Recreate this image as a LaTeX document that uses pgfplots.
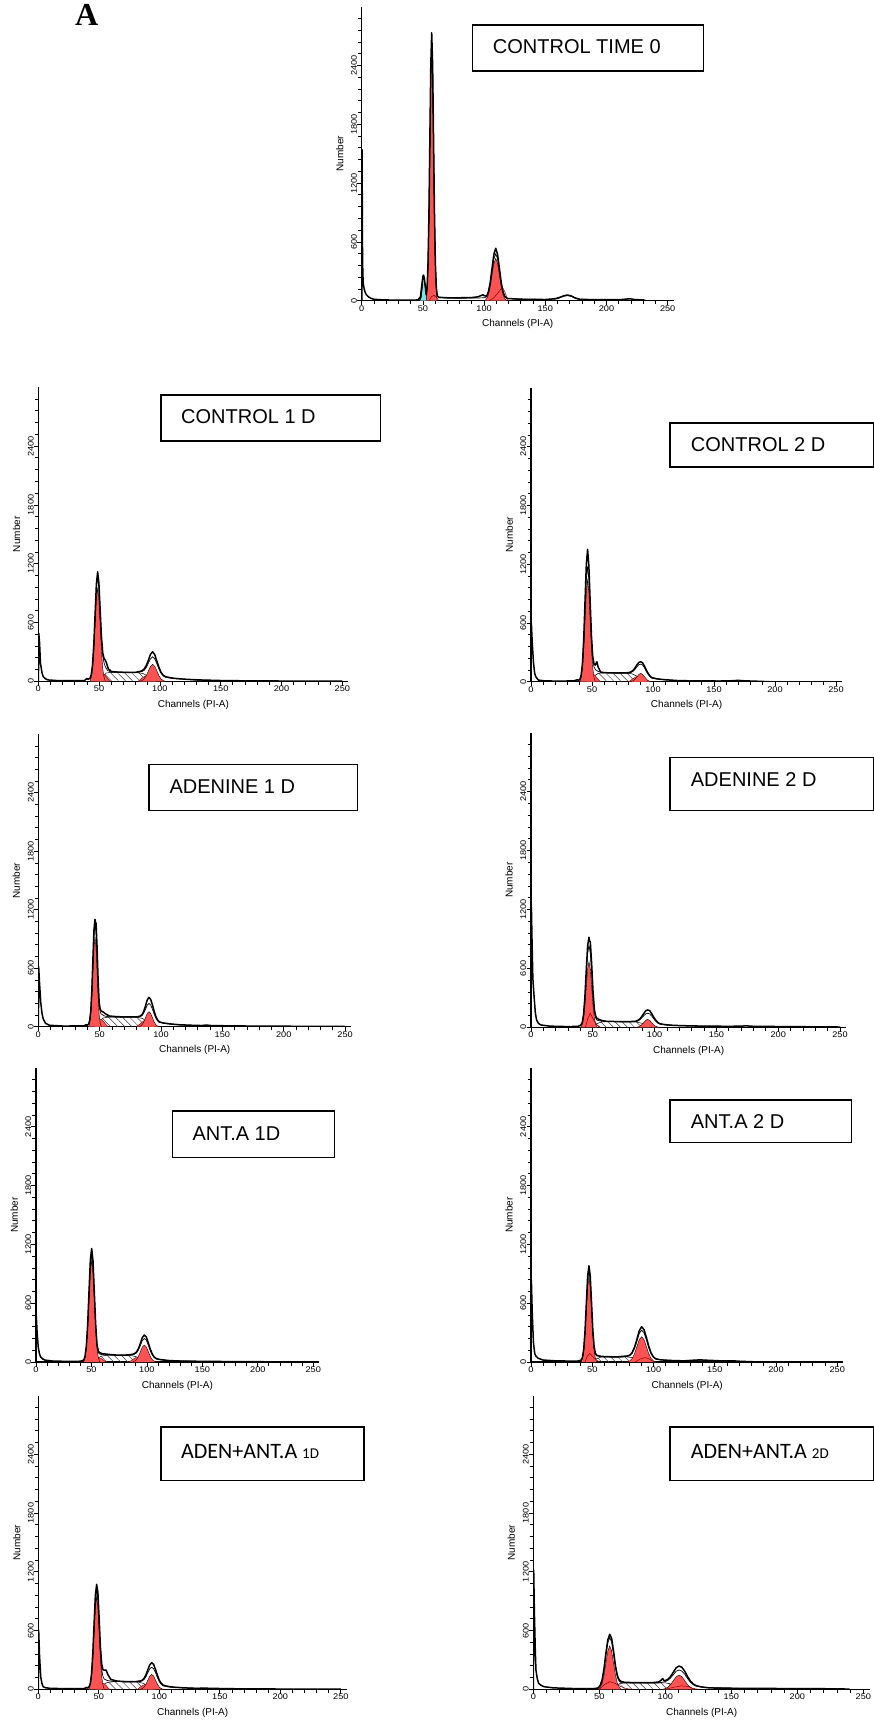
\documentclass[border=0pt]{standalone}
\usepackage{fontspec}
\setmainfont{Liberation Sans}
\newfontfamily\carlito{Carlito}
\newfontfamily\serifb{Liberation Serif}
\newfontfamily\tickfont[FakeStretch=1.12]{Liberation Sans}
\newfontfamily\labfont[FakeStretch=1.08]{Liberation Sans}
\usepackage{pgfplots}
\pgfplotsset{compat=1.18}
\usetikzlibrary{patterns.meta}
\definecolor{fred}{RGB}{255,82,82}
\definecolor{fcyan}{RGB}{120,230,230}
\pgfplotsset{
 flow/.style={
  scale only axis, xmin=0, xmax=255, ymin=0, ymax=3000,
  axis x line=bottom, axis y line=left,
  axis line style={-, line width=1.2pt},
  xtick={0,50,...,250}, minor x tick num=4,
  ytick={0,600,...,2400}, minor y tick num=4,
  extra y ticks={2520,2640,2760,2880}, extra y tick labels={},
  extra y tick style={major tick length=3.5pt},
  scaled y ticks=false, scaled x ticks=false,
  tick align=outside, major tick length=4.5pt, minor tick length=3.5pt,
  every tick/.style={black, line width=0.8pt},
  /pgf/number format/assume math mode=true,
  /pgf/number format/set thousands separator={},
  ticklabel style={font=\tickfont\fontsize{8.2}{8.2}\selectfont, inner sep=0pt},
  yticklabel style={rotate=90, anchor=south},
  xticklabel style={anchor=north},
  xlabel={Channels (PI-A)}, ylabel={Number},
  label style={font=\labfont\fontsize{10.8}{10.8}\selectfont},
  every axis x label/.style={at={(axis description cs:0.5,-0.08)}, anchor=center},
  every axis y label/.style={at={(axis description cs:-0.07,0.5)}, anchor=center, rotate=90},
 },
 dat/.style={black, line width=1.5pt, line join=round},
 mdl/.style={black, line width=0.7pt, line join=round},
 pk/.style={fill=fred, draw=black, line width=0.4pt},
 spk/.style={fill=fred, draw=red!45!black, line width=0.4pt},
 sub/.style={draw=red!55!black, line width=0.5pt},
 sph/.style={pattern={Lines[angle=-45,distance=5pt,line width=0.5pt]}, pattern color=black!75, draw=black, line width=0.5pt},
}
\begin{document}
\begin{tikzpicture}
\useasboundingbox (0pt,0pt) rectangle (874pt,-1722pt);

% ---------- P0 CONTROL TIME 0
\begin{axis}[flow, at={(361.7pt,-300.7pt)}, anchor=south west, width=312.1pt, height=294pt]
\addplot[fill=fcyan, draw=black, line width=0.4pt] coordinates {(47.5,0)(48.5,30)(49.3,120)(50,220)(50.6,252)(51.2,220)(52,130)(52.7,60)(53.4,0)};
\addplot[pk] coordinates {(52.7,0)(53.45,113)(54.2,346)(54.95,832)(55.7,1554)(56.45,2258)(57.2,2560)(57.95,2258)(58.7,1554)(59.45,832)(60.2,346)(60.95,113)(61.7,0)};
\addplot[sub] coordinates {(55,0)(57,40)(59,55)(61,35)(63,0)};
\addplot[pk] coordinates {(100.5,0)(102,19)(103.5,58)(105,140)(106.5,262)(108,381)(109.5,432)(111,381)(112.5,262)(114,140)(115.5,58)(117,19)(118.5,0)};
\addplot[sub] coordinates {(104,0)(108,30)(112,90)(115,140)(117,90)(119,20)(120,0)};
\addplot[mdl] coordinates {(45,6)(47.5,8)(48.5,35)(49.3,115)(50,215)(50.6,240)(51.2,215)(52,140)(52.7,60)(53.45,140)(54.2,370)(54.95,860)(55.7,1580)(56.45,2280)(57.2,2585)(57.95,2280)(58.7,1580)(59.45,860)(60.2,370)(60.95,135)(61.7,50)(63,30)(80,25)(95,28)(100.5,30)(102,40)(103.5,82)(105,170)(106.5,299)(108,426)(109.5,480)(111,426)(112.5,299)(114,170)(115.5,82)(117,40)(118.5,25)(125,18)(150,12)(160,20)(165,45)(168,52)(171,45)(176,18)(190,8)};
\addplot[dat] coordinates {(0.1,0)(0.3,1540)(0.7,400)(1.2,180)(2,120)(3,80)(4,58)(6,35)(8,22)(10,15)(15,10)(25,6)(40,5)(46,8)(48,40)(49,150)(50,250)(50.6,262)(51.2,225)(52,140)(52.7,60)(53.45,140)(54.2,386)(54.95,902)(55.7,1667)(56.45,2414)(57.2,2734)(57.95,2414)(58.7,1667)(59.45,902)(60.2,386)(60.95,140)(61.7,50)(63,35)(70,30)(80,30)(90,32)(95,40)(99,60)(100.5,50)(102,45)(103.5,90)(105,187)(106.5,333)(108,474)(109.5,535)(111,474)(112.5,333)(114,187)(115.5,90)(117,43)(118.5,26)(120,22)(130,15)(150,12)(158,20)(162,35)(165,50)(168,58)(171,50)(174,30)(178,15)(190,10)(210,10)(215,15)(219,20)(223,12)(230,8)(232,0)};
\end{axis}

% ---------- P1 CONTROL 1 D
\begin{axis}[flow, at={(38.3pt,-681.3pt)}, anchor=south west, width=310.1pt, height=294pt]
\addplot[sph] coordinates {(50,0)(53,50)(56,85)(60,92)(80,90)(86,80)(90,55)(95,25)(100,0)};
\addplot[spk] coordinates {(48,0)(50,35)(52,65)(54,70)(56,45)(58,15)(59,0)};
\addplot[spk] coordinates {(82,0)(85,30)(88,55)(91,50)(94,25)(97,0)};
\addplot[pk] coordinates {(42.5,0)(43.55,42)(44.6,128)(45.65,308)(46.7,575)(47.75,836)(48.8,948)(49.85,836)(50.9,575)(51.95,308)(53,128)(54.05,42)(55.1,0)};
\addplot[pk] coordinates {(83.5,0)(85.25,8)(87,23)(88.75,56)(90.5,105)(92.25,153)(94,173)(95.75,153)(97.5,105)(99.25,56)(101,23)(102.75,8)(104.5,0)};
\addplot[mdl] coordinates {(40,25)(42.5,28)(43.55,62)(44.6,155)(45.65,350)(46.7,650)(47.75,945)(48.8,1067)(49.85,950)(50.9,680)(51.95,420)(53,260)(54.05,190)(55.1,150)(57,110)(60,95)(80,90)(83.5,95)(85.25,100)(87,112)(88.75,140)(90.5,185)(92.25,230)(94,251)(95.75,228)(97.5,180)(99.25,125)(101,82)(102.75,55)(104.5,42)(110,30)(130,12)(160,5)};
\addplot[dat] coordinates {(0.1,0)(0.4,490)(1,400)(1.8,184)(3,90)(4,48)(6,25)(8,14)(15,8)(30,6)(38,8)(40,30)(41,20)(42.5,32)(43.55,68)(44.6,168)(45.65,377)(46.7,686)(47.75,988)(48.8,1118)(49.85,1000)(50.9,720)(51.95,450)(53,290)(54.05,235)(55.1,215)(56,190)(57.5,130)(60,100)(65,95)(70,92)(75,90)(80,92)(83.5,100)(85.25,108)(87,125)(88.75,160)(90.5,215)(92.25,275)(94,302)(95.75,272)(97.5,205)(99.25,140)(101,90)(102.75,62)(104.5,48)(108,38)(112,30)(120,22)(130,15)(150,8)(170,5)(200,3)(250,1)};
\end{axis}

% ---------- P2 CONTROL 2 D
\begin{axis}[flow, at={(531pt,-681.7pt)}, anchor=south west, width=311.1pt, height=293.7pt]
\addplot[sph] coordinates {(48,0)(51,50)(55,85)(60,90)(78,88)(83,80)(87,55)(92,25)(97,0)};
\addplot[spk] coordinates {(46,0)(48,40)(50,75)(52,70)(54,40)(56,10)(57,0)};
\addplot[spk] coordinates {(80,0)(83,25)(86,50)(89,55)(92,30)(95,0)};
\addplot[pk] coordinates {(40.1,0)(41.15,46)(42.2,140)(43.25,337)(44.3,630)(45.35,916)(46.4,1038)(47.45,916)(48.5,630)(49.55,337)(50.6,140)(51.65,46)(52.7,0)};
\addplot[pk] coordinates {(81,0)(82.5,4)(84,11)(85.5,28)(87,52)(88.5,75)(90,85)(91.5,75)(93,52)(94.5,28)(96,11)(97.5,4)(99,0)};
\addplot[mdl] coordinates {(38,15)(40.1,20)(41.15,60)(42.2,170)(43.25,400)(44.3,730)(45.35,1050)(46.4,1175)(47.45,1040)(48.5,730)(49.55,420)(50.6,230)(51.65,150)(52.7,125)(55,105)(58,92)(78,88)(81,90)(82.5,98)(84,110)(85.5,130)(87,155)(88.5,175)(90,180)(91.5,170)(93,142)(94.5,105)(96,75)(97.5,52)(99,37)(105,25)(120,10)(160,6)};
\addplot[dat] coordinates {(0.1,0)(0.3,596)(1,400)(2,200)(3,85)(4,50)(6,17)(10,10)(20,6)(35,8)(38,20)(39,12)(40.1,25)(41.15,70)(42.2,190)(43.25,450)(44.3,830)(45.35,1200)(46.4,1352)(47.45,1180)(48.5,820)(49.55,470)(50.6,260)(51.65,180)(52.7,170)(54,204)(55,150)(57,100)(60,92)(70,90)(78,90)(81,95)(82.5,105)(84,120)(85.5,145)(87,175)(88.5,198)(90,204)(91.5,192)(93,160)(94.5,120)(96,85)(97.5,60)(99,42)(103,30)(110,20)(120,12)(130,9)(140,8)(155,7)(165,10)(170,14)(175,9)(185,5)(195,0)};
\end{axis}

% ---------- P3 ADENINE 1 D
\begin{axis}[flow, at={(38.3pt,-1026.7pt)}, anchor=south west, width=312.9pt, height=292.5pt]
\addplot[sph] coordinates {(48,0)(50,60)(53,90)(58,100)(80,98)(85,85)(88,55)(93,20)(97,0)};
\addplot[spk] coordinates {(46,0)(48,40)(50,75)(52,70)(54,40)(56,10)(57,0)};
\addplot[spk] coordinates {(80,0)(83,30)(86,60)(89,55)(92,30)(95,0)};
\addplot[pk] coordinates {(41.1,0)(41.95,41)(42.8,125)(43.65,300)(44.5,560)(45.35,814)(46.2,923)(47.05,814)(47.9,560)(48.75,300)(49.6,125)(50.45,41)(51.3,0)};
\addplot[pk] coordinates {(81.8,0)(83.2,7)(84.6,21)(86,50)(87.4,93)(88.8,136)(90.2,154)(91.6,136)(93,93)(94.4,50)(95.8,21)(97.2,7)(98.6,0)};
\addplot[mdl] coordinates {(38,15)(41.1,25)(41.95,62)(42.8,155)(43.65,350)(44.5,640)(45.35,930)(46.2,1060)(47.05,960)(47.9,680)(48.75,400)(49.6,220)(50.45,150)(51.3,130)(54,110)(58,100)(80,98)(81.8,100)(83.2,104)(84.6,115)(86,140)(87.4,180)(88.8,222)(90.2,239)(91.6,222)(93,180)(94.4,130)(95.8,88)(97.2,60)(98.6,44)(105,30)(120,15)(160,6)};
\addplot[dat] coordinates {(0.1,0)(0.3,615)(1,450)(2,250)(3,137)(4,80)(6,34)(9,15)(20,7)(37,8)(39,20)(40,14)(41.1,30)(41.95,70)(42.8,170)(43.65,380)(44.5,690)(45.35,990)(46.2,1100)(46.6,1075)(47.05,1060)(47.9,820)(48.75,480)(49.6,250)(50.45,180)(51.3,160)(53,150)(55,130)(58,110)(62,105)(70,100)(80,100)(81.8,105)(83.2,110)(84.6,125)(86,160)(87.4,215)(88.8,275)(90.2,301)(91.6,280)(93,225)(94.4,160)(95.8,105)(97.2,70)(98.6,50)(102,38)(108,28)(115,20)(125,15)(133,12)(137,17)(141,12)(160,8)(200,5)(250,3)};
\end{axis}

% ---------- P4 ADENINE 2 D
\begin{axis}[flow, at={(531pt,-1027.3pt)}, anchor=south west, width=315.2pt, height=294.6pt]
\addplot[sph] coordinates {(50,0)(53,35)(57,55)(62,58)(85,55)(90,40)(95,15)(99,0)};
\addplot[pk] coordinates {(40.3,0)(41.4,29)(42.5,90)(43.6,217)(44.7,406)(45.8,590)(46.9,669)(48,590)(49.1,406)(50.2,217)(51.3,90)(52.4,29)(53.5,0)};
\addplot[sub] coordinates {(44,0)(46,90)(48,143)(50,90)(53,30)(56,0)};
\addplot[pk] coordinates {(84.8,0)(86.4,4)(88,11)(89.6,26)(91.2,49)(92.8,71)(94.4,81)(96,71)(97.6,49)(99.2,26)(100.8,11)(102.4,4)(104,0)};
\addplot[mdl] coordinates {(38,8)(40.3,20)(41.4,40)(42.5,115)(43.6,280)(44.7,520)(45.8,750)(46.9,838)(48,750)(49.1,530)(50.2,300)(51.3,150)(52.4,90)(53.5,72)(57,62)(80,55)(84.8,58)(86.4,65)(88,76)(89.6,95)(91.2,118)(92.8,137)(94.4,143)(96,137)(97.6,115)(99.2,88)(100.8,64)(102.4,45)(104,33)(110,22)(130,12)(170,8)};
\addplot[dat] coordinates {(0.1,0)(0.3,1246)(0.8,900)(1.5,500)(2.5,312)(3.5,150)(4.5,75)(6,40)(8,24)(15,12)(30,7)(38,10)(40,20)(40.3,25)(41.4,45)(42.5,130)(43.6,310)(44.7,580)(45.8,830)(46.9,917)(47.4,880)(48,870)(49.1,640)(50.2,360)(51.3,180)(52.4,110)(53.5,90)(56,75)(60,62)(70,58)(80,58)(84.8,62)(86.4,70)(88,85)(89.6,110)(91.2,140)(92.8,168)(94.4,177)(96,170)(97.6,140)(99.2,105)(100.8,75)(102.4,52)(104,38)(108,28)(115,20)(130,14)(145,12)(160,10)(170,12)(174,15)(180,10)(200,8)(230,5)(250,3)};
\end{axis}

% ---------- P5 ANT.A 1D
\begin{axis}[flow, at={(36pt,-1362pt)}, anchor=south west, width=282.8pt, height=294pt, every axis y label/.style={at={(axis description cs:-0.077,0.5)}, anchor=center, rotate=90}]
\addplot[sph] coordinates {(52,0)(55,35)(59,60)(64,70)(85,68)(90,55)(95,30)(100,0)};
\addplot[spk] coordinates {(50,0)(53,30)(56,45)(59,35)(62,10)(63,0)};
\addplot[spk] coordinates {(84,0)(87,25)(90,45)(93,35)(96,15)(99,0)};
\addplot[pk] coordinates {(43,0)(44.2,46)(45.4,140)(46.6,338)(47.8,631)(49,917)(50.2,1040)(51.4,917)(52.6,631)(53.8,338)(55,140)(56.2,46)(57.4,0)};
\addplot[pk] coordinates {(86.9,0)(88.7,8)(90.5,23)(92.3,56)(94.1,105)(95.9,153)(97.7,173)(99.5,153)(101.3,105)(103.1,56)(104.9,23)(106.7,8)(108.5,0)};
\addplot[mdl] coordinates {(40,6)(43,15)(44.2,55)(45.4,155)(46.6,370)(47.8,685)(49,990)(50.2,1108)(51.4,985)(52.6,680)(53.8,370)(55,165)(56.2,95)(57.4,80)(62,72)(80,68)(86.9,74)(88.7,80)(90.5,92)(92.3,122)(94.1,168)(95.9,220)(97.7,241)(99.5,222)(101.3,170)(103.1,112)(104.9,70)(106.7,44)(108.5,30)(115,18)(140,8)};
\addplot[dat] coordinates {(0.1,0)(0.3,462)(1,300)(2,156)(3,90)(4,54)(6,32)(8,20)(15,10)(30,6)(40,8)(43,20)(44.2,60)(45.4,165)(46.6,390)(47.8,720)(49,1040)(50.2,1159)(51.4,1030)(52.6,710)(53.8,390)(55,180)(56.2,110)(57.4,95)(60,85)(64,80)(70,72)(80,70)(86.9,78)(88.7,85)(90.5,100)(92.3,135)(94.1,190)(95.9,250)(97.7,275)(99.5,255)(101.3,195)(103.1,130)(104.9,80)(106.7,50)(108.5,35)(112,25)(120,15)(130,10)(150,7)(180,4)(220,2)(250,1)};
\end{axis}

% ---------- P6 ANT.A 2 D
\begin{axis}[flow, at={(531pt,-1362pt)}, anchor=south west, width=312.4pt, height=294pt]
\addplot[sph] coordinates {(50,0)(53,30)(57,50)(62,54)(78,52)(83,45)(88,25)(94,0)};
\addplot[pk] coordinates {(41,0)(42.05,38)(43.1,117)(44.15,283)(45.2,528)(46.25,767)(47.3,870)(48.35,767)(49.4,528)(50.45,283)(51.5,117)(52.55,38)(53.6,0)};
\addplot[sub] coordinates {(44,0)(46,60)(48,88)(50,60)(53,25)(56,0)};
\addplot[pk] coordinates {(78.6,0)(80.55,11)(82.5,35)(84.45,84)(86.4,157)(88.35,228)(90.3,258)(92.25,228)(94.2,157)(96.15,84)(98.1,35)(100.05,11)(102,0)};
\addplot[sub] coordinates {(85,0)(89,30)(93,45)(96,35)(99,10)(101,0)};
\addplot[mdl] coordinates {(38,8)(41,18)(42.05,46)(43.1,130)(44.15,310)(45.2,575)(46.25,830)(47.3,945)(48.35,830)(49.4,575)(50.45,310)(51.5,145)(52.55,80)(53.6,62)(60,52)(75,52)(78.6,58)(80.55,65)(82.5,87)(84.45,137)(86.4,210)(88.35,290)(90.3,326)(92.25,298)(94.2,226)(96.15,145)(98.1,82)(100.05,46)(102,30)(110,18)(140,12)(170,6)};
\addplot[dat] coordinates {(0.1,0)(0.3,836)(1,500)(2,200)(3,88)(4,60)(6,37)(10,20)(20,12)(30,10)(38,9)(41,20)(42.05,50)(43.1,140)(44.15,330)(45.2,610)(46.25,880)(47.3,982)(48.35,880)(49.4,610)(50.45,330)(51.5,160)(52.55,90)(53.6,70)(56,60)(60,55)(70,52)(75,58)(78.6,62)(80.55,70)(82.5,95)(84.45,150)(86.4,230)(88.35,320)(90.3,360)(92.25,330)(94.2,250)(96.15,160)(98.1,90)(100.05,50)(102,32)(106,22)(115,15)(125,12)(132,18)(138,22)(144,18)(155,12)(165,12)(170,8)(180,3)(190,0)};
\end{axis}

% ---------- P7 ADEN+ANT.A 1D
\begin{axis}[flow, at={(38.3pt,-1689.3pt)}, anchor=south west, width=308.6pt, height=293.7pt]
\addplot[sph] coordinates {(50,0)(53,40)(57,70)(62,78)(82,76)(87,60)(91,30)(96,0)};
\addplot[spk] coordinates {(47,0)(50,35)(52,60)(54,62)(56,40)(58,10)(59,0)};
\addplot[spk] coordinates {(82,0)(85,30)(88,50)(91,45)(94,20)(97,0)};
\addplot[pk] coordinates {(41.9,0)(42.95,42)(44,128)(45.05,307)(46.1,574)(47.15,834)(48.2,946)(49.25,834)(50.3,574)(51.35,307)(52.4,128)(53.45,42)(54.5,0)};
\addplot[pk] coordinates {(84.1,0)(85.7,7)(87.3,21)(88.9,50)(90.5,93)(92.1,135)(93.7,153)(95.3,135)(96.9,93)(98.5,50)(100.1,21)(101.7,7)(103.3,0)};
\addplot[mdl] coordinates {(38,6)(41.9,22)(42.95,55)(44,148)(45.05,345)(46.1,630)(47.15,910)(48.2,1021)(49.25,910)(50.3,640)(51.35,370)(52.4,200)(53.45,130)(54.5,105)(57,90)(62,80)(80,76)(84.1,80)(85.7,86)(87.3,100)(88.9,128)(90.5,170)(92.1,210)(93.7,225)(95.3,210)(96.9,168)(98.5,118)(100.1,76)(101.7,50)(103.3,35)(110,20)(140,8)};
\addplot[dat] coordinates {(0.1,0)(0.3,606)(1,350)(2,129)(3,60)(4,27)(6,16)(10,10)(25,6)(38,8)(40,20)(41,12)(41.9,25)(42.95,60)(44,160)(45.05,370)(46.1,670)(47.15,960)(48.2,1072)(49.25,990)(50.3,720)(51.35,430)(52.4,260)(53.45,200)(54.5,195)(56,197)(57.5,150)(60,100)(65,85)(70,80)(80,78)(84.1,85)(85.7,92)(87.3,110)(88.9,145)(90.5,200)(92.1,250)(93.7,272)(95.3,255)(96.9,200)(98.5,140)(100.1,90)(101.7,60)(103.3,42)(107,30)(112,22)(120,15)(130,10)(138,12)(142,10)(160,6)(200,3)(250,1)};
\end{axis}

% ---------- P8 ADEN+ANT.A 2D
\begin{axis}[flow, at={(533.3pt,-1689.3pt)}, anchor=south west, width=336.6pt, height=293.7pt, every axis y label/.style={at={(axis description cs:-0.065,0.5)}, anchor=center, rotate=90}]
\addplot[sph] coordinates {(58,0)(62,35)(66,60)(72,68)(100,66)(106,50)(112,25)(118,0)};
\addplot[pk] coordinates {(49.2,0)(50.65,19)(52.1,60)(53.55,144)(55,269)(56.45,391)(57.9,443)(59.35,391)(60.8,269)(62.25,144)(63.7,60)(65.15,19)(66.6,0)};
\addplot[sub] coordinates {(50,0)(54,50)(58,78)(62,60)(66,30)(70,10)(74,0)};
\addplot[pk] coordinates {(97.5,0)(99.65,6)(101.8,20)(103.95,47)(106.1,89)(108.25,129)(110.4,146)(112.55,129)(114.7,89)(116.85,47)(119,20)(121.15,6)(123.3,0)};
\addplot[sub] coordinates {(100,0)(106,20)(112,35)(117,30)(121,10)(125,0)};
\addplot[mdl] coordinates {(46,5)(49.2,12)(50.65,35)(52.1,88)(53.55,195)(55,345)(56.45,475)(57.9,531)(59.35,480)(60.8,355)(62.25,215)(63.7,120)(65.15,80)(66.6,68)(72,65)(95,65)(97.5,72)(99.65,78)(101.8,90)(103.95,115)(106.1,150)(108.25,185)(110.4,197)(112.55,186)(114.7,155)(116.85,110)(119,72)(121.15,48)(123.3,33)(130,20)(160,8)(220,4)};
\addplot[dat] coordinates {(0.1,0)(0.3,1219)(0.8,800)(1.5,400)(2,197)(3,110)(4,61)(6,40)(8,27)(15,15)(30,8)(46,7)(49.2,15)(50.65,40)(52.1,95)(53.55,210)(55,370)(56.45,505)(57.9,562)(59.35,520)(60.8,390)(62.25,240)(63.7,140)(65.15,95)(66.6,80)(69,72)(72,70)(80,68)(90,68)(95,75)(97,95)(98,110)(99,90)(99.65,88)(101.8,100)(103.95,130)(106.1,175)(108.25,220)(110.4,238)(112.55,225)(114.7,185)(116.85,130)(119,85)(121.15,55)(123.3,38)(127,25)(133,15)(140,12)(160,10)(190,8)(220,6)(235,4)(240,0)};
\end{axis}

% ---------- label boxes
\tikzset{lbox/.style={draw=black, line width=1.3pt, fill=white}}
\node[anchor=base west, inner sep=0pt] at (75pt,-25pt) {\serifb\bfseries\fontsize{32}{32}\selectfont A};
\draw[lbox] (472.7pt,-25pt) rectangle (703.3pt,-71pt);
\node[anchor=west, inner sep=0pt] at (492.7pt,-47pt) {\fontsize{20}{20}\selectfont CONTROL TIME 0};
\draw[lbox] (161pt,-395pt) rectangle (380.7pt,-441pt);
\node[anchor=west, inner sep=0pt] at (181pt,-417pt) {\fontsize{20}{20}\selectfont CONTROL 1 D};
\draw[lbox] (670pt,-423pt) rectangle (873.3pt,-467pt);
\node[anchor=west, inner sep=0pt] at (690.7pt,-445pt) {\fontsize{20}{20}\selectfont CONTROL 2 D};
\draw[lbox] (149pt,-764.3pt) rectangle (357.3pt,-810.7pt);
\node[anchor=west, inner sep=0pt] at (169.3pt,-787pt) {\fontsize{20}{20}\selectfont ADENINE 1 D};
\draw[lbox] (670pt,-757.7pt) rectangle (873.3pt,-810.7pt);
\node[anchor=west, inner sep=0pt] at (690.7pt,-780pt) {\fontsize{20}{20}\selectfont ADENINE 2 D};
\draw[lbox] (172.3pt,-1111pt) rectangle (334.3pt,-1157.7pt);
\node[anchor=west, inner sep=0pt] at (192.3pt,-1134pt) {\fontsize{20}{20}\selectfont ANT.A 1D};
\draw[lbox] (670pt,-1100pt) rectangle (851.7pt,-1142.7pt);
\node[anchor=west, inner sep=0pt] at (690.7pt,-1121.7pt) {\fontsize{20}{20}\selectfont ANT.A 2 D};
\draw[lbox] (161pt,-1427pt) rectangle (364pt,-1480.7pt);
\node[anchor=west, inner sep=0pt] at (181pt,-1452pt) {\carlito\fontsize{22}{22}\selectfont ADEN+ANT.A {\fontsize{15}{15}\selectfont 1D}};
\draw[lbox] (670pt,-1427pt) rectangle (873.3pt,-1480.7pt);
\node[anchor=west, inner sep=0pt] at (690.7pt,-1452pt) {\carlito\fontsize{22}{22}\selectfont ADEN+ANT.A {\fontsize{15}{15}\selectfont 2D}};
\end{tikzpicture}
\end{document}
